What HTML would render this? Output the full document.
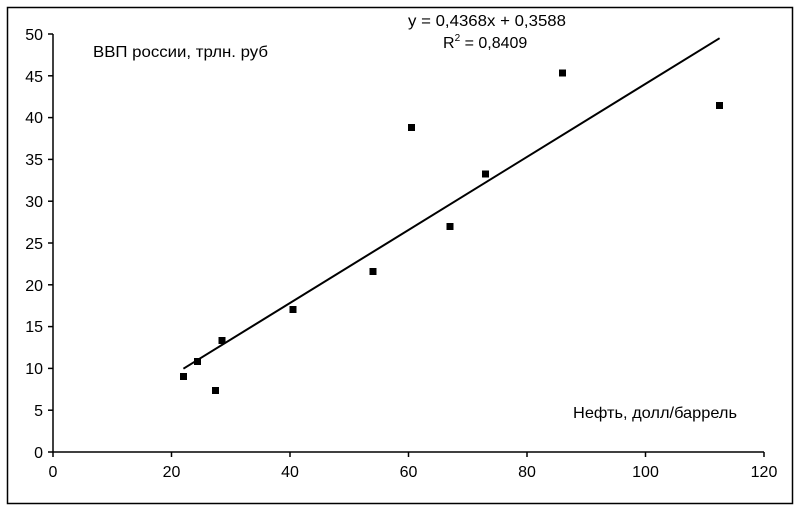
<!DOCTYPE html>
<html><head><meta charset="utf-8"><style>body{margin:0;background:#fff}svg{display:block}</style></head>
<body>
<svg width="800" height="511" xmlns="http://www.w3.org/2000/svg" font-family="Liberation Sans, sans-serif" font-size="16" fill="#000">
<rect x="0" y="0" width="800" height="511" fill="#fff"/>
<rect x="7.5" y="7.5" width="785" height="496" fill="none" stroke="#000" stroke-width="1.5"/>
<g stroke="#000" stroke-width="1.5" fill="none">
<line x1="53" y1="34" x2="53" y2="452"/>
<line x1="53" y1="452" x2="764" y2="452"/>
<line x1="48" y1="452" x2="53" y2="452"/><line x1="48" y1="410.2" x2="53" y2="410.2"/><line x1="48" y1="368.4" x2="53" y2="368.4"/><line x1="48" y1="326.6" x2="53" y2="326.6"/><line x1="48" y1="284.8" x2="53" y2="284.8"/><line x1="48" y1="243" x2="53" y2="243"/><line x1="48" y1="201.2" x2="53" y2="201.2"/><line x1="48" y1="159.4" x2="53" y2="159.4"/><line x1="48" y1="117.6" x2="53" y2="117.6"/><line x1="48" y1="75.8" x2="53" y2="75.8"/><line x1="48" y1="34" x2="53" y2="34"/>
<line x1="53" y1="452" x2="53" y2="457"/><line x1="171.5" y1="452" x2="171.5" y2="457"/><line x1="290" y1="452" x2="290" y2="457"/><line x1="408.5" y1="452" x2="408.5" y2="457"/><line x1="527" y1="452" x2="527" y2="457"/><line x1="645.5" y1="452" x2="645.5" y2="457"/><line x1="764" y1="452" x2="764" y2="457"/>
<line x1="183.4" y1="368.7" x2="719.6" y2="38.2" stroke-width="2"/>
</g>
<g text-anchor="end">
<text x="43" y="458">0</text><text x="43" y="416">5</text><text x="43" y="374">10</text><text x="43" y="332">15</text><text x="43" y="291">20</text><text x="43" y="249">25</text><text x="43" y="207">30</text><text x="43" y="165">35</text><text x="43" y="123">40</text><text x="43" y="82">45</text><text x="43" y="40">50</text>
</g>
<g text-anchor="middle">
<text x="53" y="477">0</text><text x="171.5" y="477">20</text><text x="290" y="477">40</text><text x="408.5" y="477">60</text><text x="527" y="477">80</text><text x="645.5" y="477">100</text><text x="764" y="477">120</text>
</g>
<g>
<rect x="180" y="373" width="7" height="7"/><rect x="194" y="358" width="7" height="7"/><rect x="212" y="387" width="7" height="7"/><rect x="218.5" y="337" width="7" height="7"/><rect x="289.5" y="306" width="7" height="7"/><rect x="369.5" y="268" width="7" height="7"/><rect x="408" y="124" width="7" height="7"/><rect x="446.5" y="223" width="7" height="7"/><rect x="482" y="170.5" width="7" height="7"/><rect x="559" y="69.5" width="7" height="7"/><rect x="716" y="102" width="7" height="7"/>
</g>
<text x="93" y="57" textLength="175" lengthAdjust="spacingAndGlyphs">ВВП россии, трлн. руб</text>
<text x="573" y="418" textLength="164" lengthAdjust="spacingAndGlyphs">Нефть, долл/баррель</text>
<text x="408" y="26" textLength="158" lengthAdjust="spacingAndGlyphs">y = 0,4368x + 0,3588</text>
<text x="443" y="48">R<tspan font-size="10" dy="-7">2</tspan><tspan dy="7"> = 0,8409</tspan></text>
</svg>
</body></html>
